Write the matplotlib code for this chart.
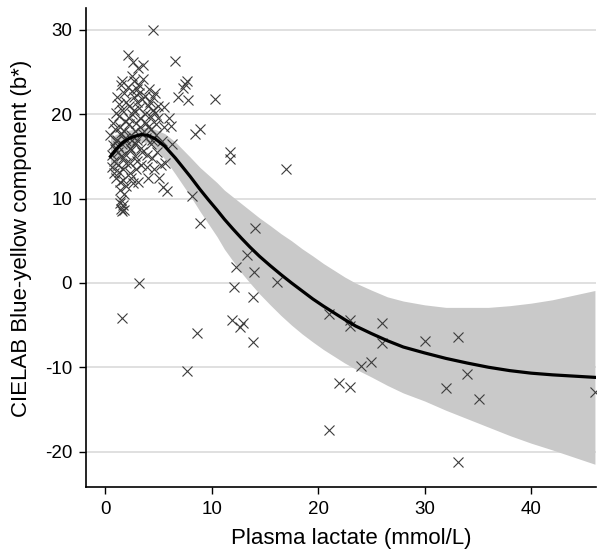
import matplotlib
matplotlib.use('Agg')
import matplotlib.pyplot as plt

plt.rcParams['font.family'] = ['Liberation Sans', 'DejaVu Sans']
plt.rcParams['axes.unicode_minus'] = False

# scatter: plasma lactate (mmol/L) vs CIELAB b*
lactate = [
    # dense cluster, low lactate
    0.5, 0.6, 0.6, 0.7, 0.7, 0.8, 0.8, 0.9, 0.9, 1.0, 1.0, 1.0,
    1.1, 1.1, 1.2, 1.2, 1.2, 1.3, 1.3, 1.3, 1.4, 1.4, 1.4, 1.5, 1.5, 1.5, 1.5,
    1.6, 1.6, 1.6, 1.7, 1.7, 1.7, 1.8, 1.8, 1.8, 1.9, 1.9, 1.9, 2.0, 2.0, 2.0, 2.0,
    2.1, 2.1, 2.2, 2.2, 2.2, 2.3, 2.3, 2.3, 2.4, 2.4, 2.4, 2.5, 2.5, 2.5, 2.5,
    2.6, 2.6, 2.7, 2.7, 2.7, 2.8, 2.8, 2.8, 2.9, 2.9, 3.0, 3.0, 3.0, 3.0,
    3.1, 3.1, 3.2, 3.2, 3.2, 3.3, 3.3, 3.4, 3.4, 3.5, 3.5, 3.5,
    3.6, 3.6, 3.7, 3.7, 3.8, 3.8, 3.9, 3.9, 4.0, 4.0, 4.0,
    4.1, 4.2, 4.2, 4.3, 4.3, 4.4, 4.4, 4.5, 4.5, 4.5, 4.6,
    4.7, 4.7, 4.8, 4.8, 4.9, 5.0, 5.0, 5.1, 5.2, 5.3, 5.5, 5.6,
    5.4, 5.8, 5.5, 6.0, 6.2, 6.3, 6.6, 6.8, 7.3, 7.7, 7.8, 7.5,
    8.2, 8.4, 8.9, 10.3, 11.7, 11.7,
    # lower points in the low range
    1.6, 3.2, 1.5, 1.7, 1.8, 1.4, 1.6,
    # higher lactate
    8.9, 14.1, 13.3, 12.3, 14.0, 16.1, 12.1, 13.9, 11.9, 12.9, 12.7, 8.6, 13.9,
    7.7, 17.0, 21.0, 23.0, 23.0, 26.0, 26.0, 30.0, 33.1, 24.0, 25.0, 22.0,
    23.0, 32.0, 34.0, 35.1, 21.0, 33.1, 46.0,
]
b_star = [
    17.5, 15.2, 13.8, 16.4, 19.0, 14.5, 13.0, 18.2, 15.9, 16.8, 12.5, 20.1,
    22.0, 17.0, 14.0, 15.5, 16.2, 13.2, 19.8, 21.2, 12.0, 11.0, 18.5, 17.8, 15.0, 23.5, 9.8,
    24.0, 20.5, 16.5, 14.8, 13.5, 12.2, 10.5, 18.0, 22.5, 19.2, 17.2, 15.3, 11.5, 21.5, 16.8, 14.2,
    27.0, 23.2, 21.0, 19.5, 18.8, 16.0, 14.2, 13.0, 12.5, 15.8, 17.5, 22.8, 24.5, 20.0, 16.9,
    11.8, 26.2, 24.0, 22.0, 20.5, 18.0, 16.5, 15.0, 13.5, 19.0, 21.5, 17.0, 14.5, 23.0,
    12.0, 25.5, 23.5, 22.5, 20.8, 19.5, 18.5, 16.0, 14.0, 17.8, 21.8, 15.5,
    25.9, 24.2, 22.2, 20.0, 19.0, 17.2, 15.2, 13.8, 18.5, 21.0, 12.5,
    23.0, 21.5, 19.8, 18.2, 16.5, 14.8, 17.0, 30.0, 20.5, 22.0, 13.5,
    22.5, 20.2, 18.8, 17.5, 15.5, 19.5, 21.0, 12.5, 14.0, 16.8, 20.9, 14.2,
    11.4, 10.9, 18.5, 19.5, 18.6, 16.5, 26.3, 22.0, 23.1, 24.0, 21.7, 23.6,
    10.3, 17.6, 18.3, 21.8, 15.5, 14.7,
    8.5, 0.0, 8.8, 9.2, 8.6, 9.5, -4.2,
    7.1, 6.5, 3.3, 1.9, 1.3, 0.1, -0.5, -1.7, -4.4, -4.7, -5.2, -5.9, -7.0,
    -10.4, 13.5, -3.7, -4.4, -5.1, -4.7, -7.1, -6.9, -6.4, -9.9, -9.4, -11.9,
    -12.3, -12.5, -10.8, -13.8, -17.4, -21.2, -12.9,
]

# fitted curve with 95% CI
fit_x = [0.5, 1.0, 1.6, 2.2, 2.8, 3.4, 4.0, 4.7, 5.6, 6.6, 7.3, 8.0, 8.9, 9.7,
         10.5, 11.2, 12.0, 12.8, 13.6, 14.5, 15.5, 16.5, 17.5, 18.5, 19.5, 20.5,
         21.5, 22.5, 23.5, 25.0, 26.5, 28.0, 30.0, 32.0, 34.0, 36.0, 38.0, 40.0,
         42.0, 44.0, 46.0]
fit_y = [15.0, 15.8, 16.6, 17.1, 17.4, 17.6, 17.5, 17.1, 16.2, 14.8, 13.7, 12.6, 11.1, 9.85,
         8.65, 7.55, 6.4, 5.3, 4.25, 3.15, 2.05, 1.0, 0.0, -0.95, -1.9, -2.75,
         -3.55, -4.35, -5.1, -6.0, -6.85, -7.6, -8.3, -8.95, -9.5, -10.0, -10.4, -10.7,
         -10.9, -11.05, -11.2]
ci_lo = [12.8, 14.0, 15.3, 16.1, 16.55, 16.8, 16.6, 16.0, 14.7, 12.9, 11.6, 10.3, 8.5, 7.0,
         5.5, 4.0, 2.6, 1.2, 0.0, -1.3, -2.6, -3.85, -5.0, -6.05, -7.0, -7.9,
         -8.7, -9.5, -10.2, -11.15, -12.15, -13.05, -14.0, -15.1, -16.1, -17.1, -18.1, -19.0,
         -19.8, -20.65, -21.5]
ci_hi = [17.2, 17.6, 17.9, 18.1, 18.25, 18.4, 18.4, 18.2, 17.7, 16.7, 15.8, 14.9, 13.7, 12.8,
         11.9, 11.0, 10.2, 9.4, 8.6, 7.7, 6.8, 5.85, 5.0, 4.05, 3.2, 2.3,
         1.5, 0.7, 0.0, -0.85, -1.65, -2.15, -2.6, -2.9, -2.9, -2.9, -2.7, -2.4,
         -2.0, -1.45, -0.9]

fig = plt.figure(figsize=(6.14, 5.55), dpi=100)
ax = fig.add_axes([86 / 614, 68 / 555, 510 / 614, 479 / 555])

ax.fill_between(fit_x, ci_lo, ci_hi, color='#c9c9c9', linewidth=0, zorder=1)
ax.plot(lactate, b_star, linestyle='none', marker='x', markersize=7.5,
        markeredgewidth=0.8, color='#3c3c3c', zorder=2)
ax.plot(fit_x, fit_y, color='black', linewidth=2.3, zorder=3, solid_joinstyle='round')

ax.set_xlim(-1.8, 46.1)
ax.set_ylim(-24.2, 32.6)
ax.set_xticks([0, 10, 20, 30, 40])
ax.set_yticks([-20, -10, 0, 10, 20, 30])
ax.yaxis.grid(True, color='#dddddd', linewidth=1.3, zorder=0)
ax.set_axisbelow(True)

for side in ['top', 'right']:
    ax.spines[side].set_visible(False)
for side in ['left', 'bottom']:
    ax.spines[side].set_linewidth(1.2)
ax.tick_params(direction='out', length=5, width=1, labelsize=13.5, pad=5)

ax.set_xlabel('Plasma lactate (mmol/L)', fontsize=16, labelpad=6)
ax.set_ylabel('CIELAB Blue-yellow component (b*)', fontsize=16, labelpad=8)
ax.xaxis.set_label_coords(0.52, -0.085)
ax.yaxis.set_label_coords(-0.105, 0.52)

fig.savefig('out.png', dpi=100)
